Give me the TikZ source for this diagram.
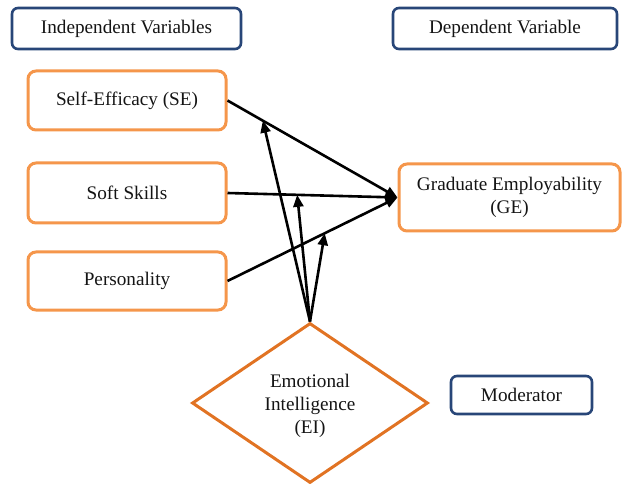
\documentclass[tikz,border=0pt]{standalone}
\usepackage{fontspec}
\setmainfont{Liberation Serif}
\usetikzlibrary{shapes.geometric,arrows.meta}
\definecolor{boxorange}{RGB}{245,150,75}
\definecolor{diaorange}{RGB}{225,115,35}
\definecolor{navy}{RGB}{40,70,120}
\definecolor{txt}{RGB}{20,20,20}
\begin{document}
\begin{tikzpicture}[x=1pt,y=-1pt,
  every node/.style={font=\rmfamily\fontsize{19.2}{23}\selectfont, text=txt, align=center, inner sep=0pt},
  ivbox/.style={draw=boxorange, line width=3pt, rounded corners=8pt},
  labbox/.style={draw=navy, line width=2.6pt, rounded corners=6pt},
  conn/.style={draw=black, line width=2.6pt, -{Triangle[length=12pt,width=10pt]}}
]
\useasboundingbox (0,0) rectangle (622,484);
% header boxes
\node[labbox, minimum width=229pt, minimum height=41pt] (iv) at (126.5,28.5) {Independent Variables};
\node[labbox, minimum width=224pt, minimum height=41pt] (dv) at (505,28.5) {Dependent Variable};
\node[labbox, minimum width=141pt, minimum height=38pt] (mod) at (521.5,395) {Moderator};
% independent variables
\node[ivbox, minimum width=198pt, minimum height=59pt] (se) at (127,100.5) {Self-Efficacy (SE)};
\node[ivbox, minimum width=198pt, minimum height=60pt] (ss) at (127,193) {Soft Skills};
\node[ivbox, minimum width=198pt, minimum height=58pt] (pe) at (127,281) {Personality};
% dependent variable
\node[ivbox, minimum width=221pt, minimum height=67pt] (ge) at (509.5,197.5) {Graduate Employability\\(GE)};
% moderator diamond
\node[draw=diaorange, line width=3pt, shape=diamond, minimum width=236pt, minimum height=160pt] (ei) at (310,403) {};
\node (eitext) at (310,406) {Emotional\\Intelligence\\(EI)};
% main connectors
\draw[conn] (se.east) -- (ge.west);
\draw[conn] (ss.east) -- (ge.west);
\draw[conn] (pe.east) -- (ge.west);
% moderation points
\path (se.east) -- (ge.west) coordinate[pos=0.208] (m1);
\path (ss.east) -- (ge.west) coordinate[pos=0.41] (m2);
\path (pe.east) -- (ge.west) coordinate[pos=0.572] (m3);
\draw[conn] (ei.north) -- (m1);
\draw[conn] (ei.north) -- (m2);
\draw[conn] (ei.north) -- (m3);
\end{tikzpicture}
\end{document}
